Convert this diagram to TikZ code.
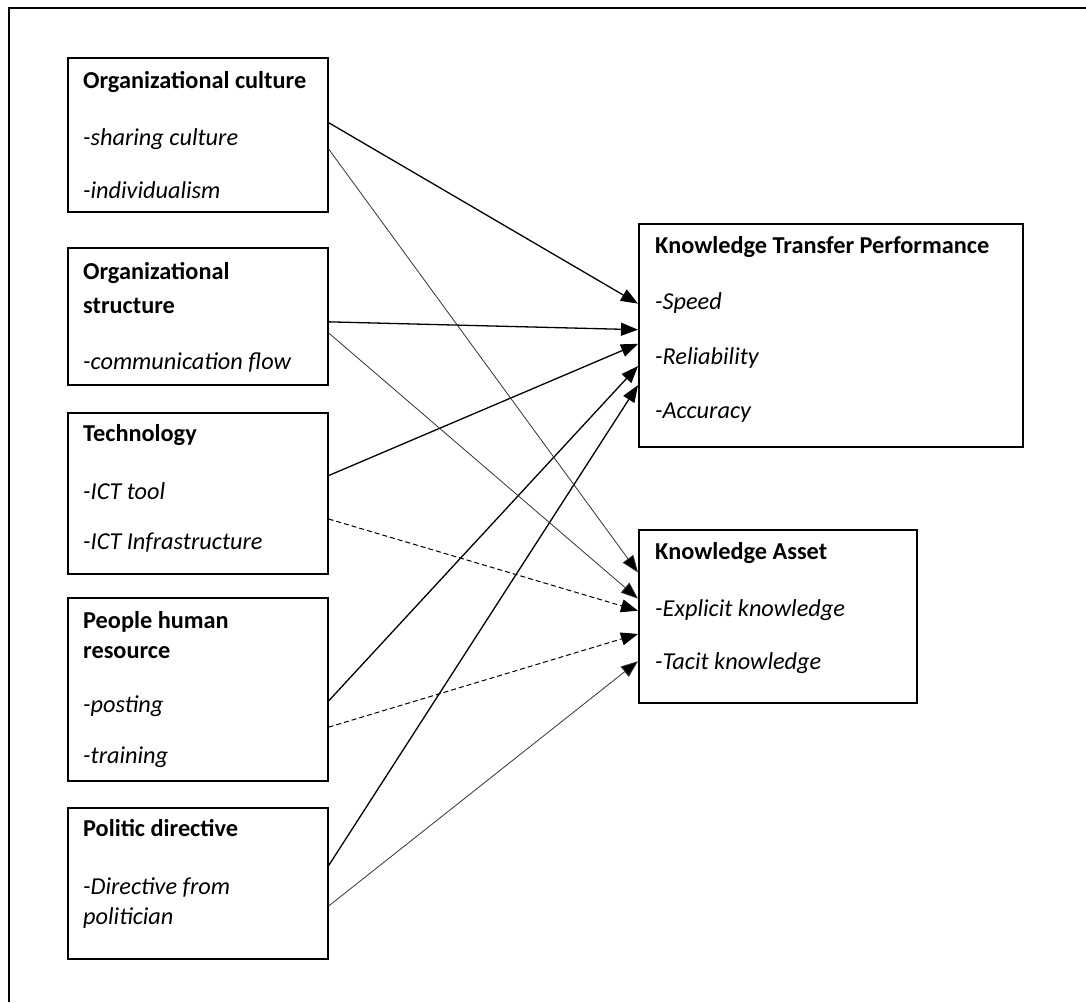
\documentclass[tikz,border=0pt]{standalone}
\usepackage{fontspec}
\setmainfont{Carlito}
\usetikzlibrary{arrows.meta,calc}

\begin{document}
\begin{tikzpicture}[x=1pt,y=-1pt,
  box/.style={draw, line width=1.6pt, inner sep=0pt, anchor=north west},
  lbl/.style={anchor=base west, inner sep=0pt},
  head/.style={lbl, font=\fontsize{24.3}{34}\selectfont\bfseries},
  item/.style={lbl, font=\fontsize{24.3}{34}\selectfont\itshape},
  tip/.style={-{Triangle[length=17pt,width=13pt,fill=black]}},
  link/.style={tip, line width=1.3pt},
  thinlink/.style={tip, line width=0.8pt, draw=black!80},
  dashlink/.style={tip, line width=1pt, dash pattern=on 5pt off 3pt}
]
\useasboundingbox (0,0) rectangle (1086,1002);

% frame
\draw[line width=1.5pt] (1086,8) -- (9,8) -- (9,1002);

% factor boxes
\node[box, minimum width=260pt, minimum height=154pt] (oc)   at (67,57)  {};
\node[box, minimum width=260pt, minimum height=137pt] (os)   at (67,247) {};
\node[box, minimum width=260pt, minimum height=161pt] (tech) at (67,412) {};
\node[box, minimum width=260pt, minimum height=183pt] (ppl)  at (67,597) {};
\node[box, minimum width=260pt, minimum height=151pt] (pol)  at (67,807) {};

% outcome boxes
\node[box, minimum width=384pt, minimum height=223pt] (ktp) at (638,223) {};
\node[box, minimum width=278pt, minimum height=173pt] (ka)  at (638,529) {};

% box texts
\node[head] (oc1) at (83,88)  {Organizational culture};
\node[item] (oc2) at (83,145) {-sharing culture};
\node[item] (oc3) at (83,198) {-individualism};

\node[head] (os1) at (83,279) {Organizational};
\node[head] (os2) at (83,313) {structure};
\node[item] (os3) at (83,369) {-communication flow};

\node[head] (te1) at (83,441) {Technology};
\node[item] (te2) at (83,499) {-ICT tool};
\node[item] (te3) at (83,549) {-ICT Infrastructure};

\node[head] (pp1) at (83,628) {People human};
\node[head] (pp2) at (83,658) {resource};
\node[item] (pp3) at (83,712) {-posting};
\node[item] (pp4) at (83,763) {-training};

\node[head] (po1) at (83,836) {Politic directive};
\node[item] (po2) at (83,894) {-Directive from};
\node[item] (po3) at (83,924) {politician};

\node[head] (kt1) at (655,253) {Knowledge Transfer Performance};
\node[item] (kt2) at (655,309) {-Speed};
\node[item] (kt3) at (655,364) {-Reliability};
\node[item] (kt4) at (655,418) {-Accuracy};

\node[head] (ka1) at (655,559) {Knowledge Asset};
\node[item] (ka2) at (655,616) {-Explicit knowledge};
\node[item] (ka3) at (655,669) {-Tacit knowledge};

% links to knowledge transfer performance
\draw[link] ($(oc.north east)!0.422!(oc.south east)$)     -- ($(ktp.north west)!0.359!(ktp.south west)$);
\draw[link] ($(os.north east)!0.540!(os.south east)$)     -- ($(ktp.north west)!0.475!(ktp.south west)$);
\draw[link] ($(tech.north east)!0.391!(tech.south east)$) -- ($(ktp.north west)!0.538!(ktp.south west)$);
\draw[link] ($(ppl.north east)!0.563!(ppl.south east)$)   -- ($(ktp.north west)!0.637!(ktp.south west)$);
\draw[link] ($(pol.north east)!0.384!(pol.south east)$)   -- ($(ktp.north west)!0.722!(ktp.south west)$);

% links to knowledge asset
\draw[thinlink] ($(oc.north east)!0.591!(oc.south east)$)     -- ($(ka.north west)!0.249!(ka.south west)$);
\draw[thinlink] ($(os.north east)!0.620!(os.south east)$)     -- ($(ka.north west)!0.399!(ka.south west)$);
\draw[dashlink] ($(tech.north east)!0.658!(tech.south east)$) -- ($(ka.north west)!0.468!(ka.south west)$);
\draw[dashlink] ($(ppl.north east)!0.705!(ppl.south east)$)   -- ($(ka.north west)!0.601!(ka.south west)$);
\draw[thinlink] ($(pol.north east)!0.649!(pol.south east)$)   -- ($(ka.north west)!0.757!(ka.south west)$);
\end{tikzpicture}
\end{document}
